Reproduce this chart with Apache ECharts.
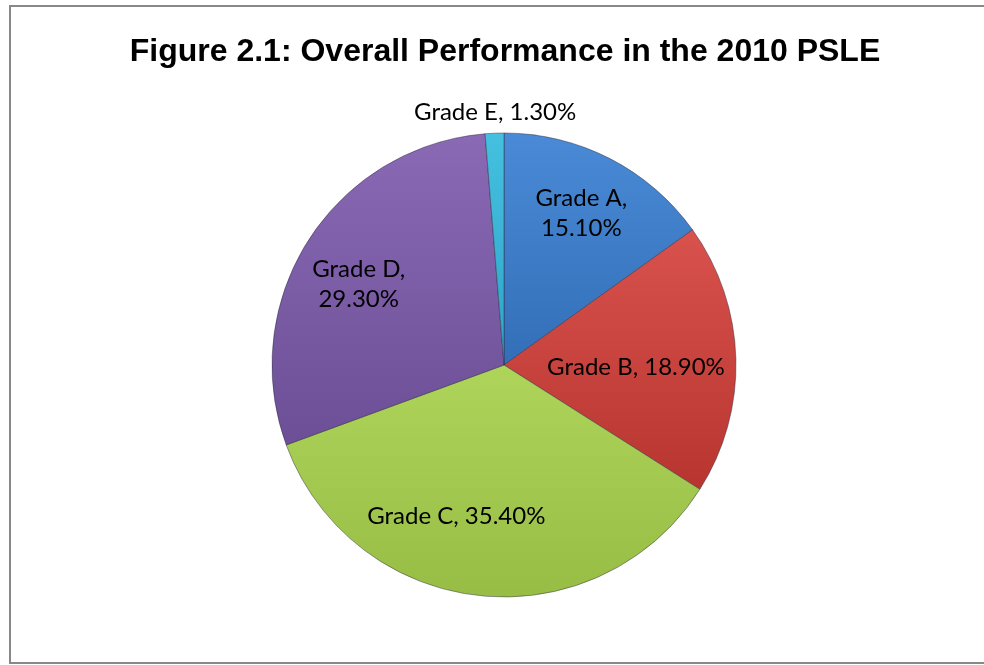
<!DOCTYPE html>
<html>
<head>
<meta charset="utf-8">
<script src="https://cdn.jsdelivr.net/npm/echarts@6/dist/echarts.min.js"></script>
<style>html,body{margin:0;padding:0;background:#fff}#c{width:984px;height:665px}</style>
</head>
<body>
<div id="c"></div>
<script>
var titleText = 'Figure 2.1: Overall Performance in the 2010 PSLE';
var categories = ['Grade A', 'Grade B', 'Grade C', 'Grade D', 'Grade E'];
var percents = [15.1, 18.9, 35.4, 29.3, 1.3];

var colorsTop = ['#4a8ad6', '#d9524d', '#aed45a', '#8a69b5', '#45c0e0'];
var colorsBottom = ['#336fb8', '#b8352f', '#97bd45', '#6c4f96', '#2ea4c8'];
var labelOffsets = [[23, -46], [13, 6], [-35, 33], [-45, -17], [-4, -134]];
var twoLine = [true, false, false, true, false];

var chart = echarts.init(document.getElementById('c'), null, {renderer: 'canvas'});
var data = categories.map(function (n, i) {
  return {
    name: n,
    value: percents[i],
    itemStyle: {
      color: new echarts.graphic.LinearGradient(0, 0, 0, 1, [
        {offset: 0, color: colorsTop[i]},
        {offset: 1, color: colorsBottom[i]}
      ])
    },
    label: {offset: labelOffsets[i]}
  };
});

chart.setOption({
  animation: false,
  backgroundColor: '#ffffff',
  title: {
    text: titleText,
    left: 500,
    textAlign: 'center',
    top: 31,
    textStyle: {fontFamily: 'Liberation Sans, Arial, sans-serif', fontWeight: 'bold', fontSize: 32, color: '#000'}
  },
  graphic: [{
    type: 'rect',
    shape: {x: 10, y: 6, width: 990, height: 657},
    style: {fill: 'none', stroke: '#888888', lineWidth: 2},
    silent: true
  }],
  series: [{
    type: 'pie',
    center: [504, 365],
    radius: 232,
    startAngle: 90,
    clockwise: true,
    avoidLabelOverlap: false,
    emphasis: {disabled: true},
    itemStyle: {borderColor: 'rgba(40,40,60,0.45)', borderWidth: 1},
    label: {
      show: true,
      position: 'inside',
      color: '#000',
      fontFamily: 'Lato, "Open Sans", sans-serif',
      fontSize: 24,
      lineHeight: 30,
      align: 'center',
      formatter: function (p) {
        var v = p.value.toFixed(2) + '%';
        return twoLine[p.dataIndex] ? p.name + ',\n' + v : p.name + ', ' + v;
      }
    },
    labelLine: {show: false},
    data: data
  }]
});
</script>
</body>
</html>
